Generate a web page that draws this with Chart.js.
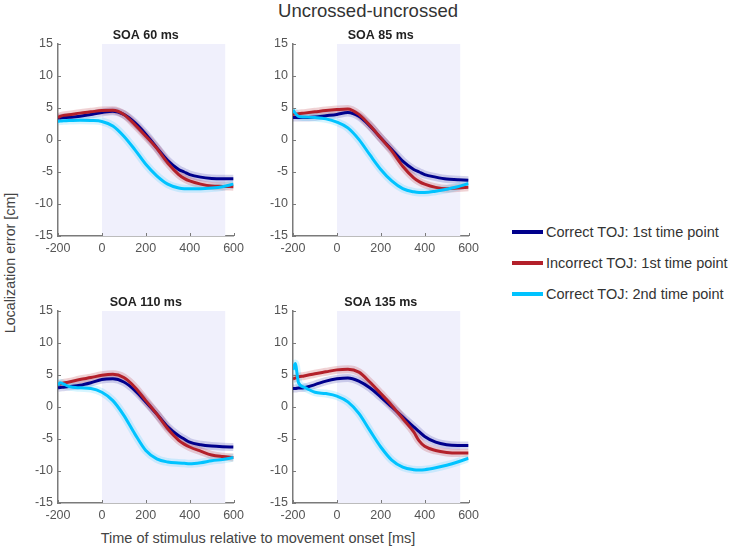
<!DOCTYPE html>
<html>
<head>
<meta charset="utf-8">
<script src="https://cdn.jsdelivr.net/npm/chart.js@4.4.1/dist/chart.umd.min.js"></script>
<style>
  body { margin: 0; background: #fff; }
  #wrap { position: relative; width: 730px; height: 550px; font-family: 'Liberation Sans', Arial, sans-serif; color: #333; }
  #wrap canvas { position: absolute; }
  .txt { position: absolute; white-space: nowrap; }
  #titulo { left: 368px; top: 11px; font-size: 18.5px; color: #333; transform: translate(-50%, -50%); }
  #ylab { left: 10px; top: 263px; font-size: 14.3px; color: #444; transform: translate(-50%, -50%) rotate(-90deg); }
  #xlab { left: 258px; top: 538px; font-size: 14.5px; color: #444; transform: translate(-50%, -50%); }
  .leg { position: absolute; left: 512px; font-size: 14.5px; color: #333; height: 18px; line-height: 18px; }
  .leg span { display: inline-block; width: 31px; height: 4px; vertical-align: middle; margin-right: 3px; position: relative; top: -1px; }
</style>
</head>
<body>
<div id="wrap">
  <div id="titulo" class="txt">Uncrossed-uncrossed</div>
  <div id="ylab" class="txt">Localization error [cm]</div>
  <div id="xlab" class="txt">Time of stimulus relative to movement onset [ms]</div>
  <div id="legenda"></div>
  <canvas id="c1" width="225" height="237" style="left:24px; top:23px"></canvas>
  <canvas id="c2" width="225" height="237" style="left:259px; top:23px"></canvas>
  <canvas id="c3" width="225" height="237" style="left:24px; top:290px"></canvas>
  <canvas id="c4" width="225" height="237" style="left:259px; top:290px"></canvas>
</div>
<script>
// tempos (ms) comuns a todas as curvas
const tempos = [-200, -190, -175, -150, -100, -50, 0, 50, 100, 150, 200, 250, 300, 350, 375, 400, 450, 500, 550, 600];

// janela do movimento (faixa sombreada)
const janela = [0, 563];

const titulos = ['SOA 60 ms', 'SOA 85 ms', 'SOA 110 ms', 'SOA 135 ms'];
const nomesSeries = ['Correct TOJ: 1st time point', 'Incorrect TOJ: 1st time point', 'Correct TOJ: 2nd time point'];
const coresSeries = ['#00008c', '#b3202a', '#00c3ff'];
const coresBanda = ['rgba(0,0,140,0.16)', 'rgba(179,32,42,0.2)', 'rgba(0,195,255,0.16)'];

// SOA 60
const soa60Correto1 = [3.4, 3.45, 3.5, 3.55, 3.7, 4.0, 4.3, 4.5, 4.0, 2.7, 0.9, -1.2, -3.2, -4.6, -5.0, -5.4, -5.8, -6.0, -6.05, -6.05];
const soa60Incorreto1 = [3.5, 3.7, 3.85, 3.95, 4.2, 4.4, 4.6, 4.65, 4.0, 2.4, 0.6, -1.3, -3.6, -5.4, -6.0, -6.4, -6.9, -7.2, -7.25, -7.3];
const soa60Correto2 = [2.9, 2.95, 3.0, 3.05, 3.1, 3.05, 2.9, 2.2, 0.6, -1.5, -3.8, -5.6, -6.9, -7.5, -7.6, -7.6, -7.6, -7.5, -7.3, -6.9];

// SOA 85
const soa85Correto1 = [3.5, 3.5, 3.5, 3.5, 3.6, 3.8, 4.0, 4.3, 3.7, 2.2, 0.3, -1.5, -3.3, -4.6, -5.0, -5.4, -5.8, -6.1, -6.2, -6.3];
const soa85Incorreto1 = [4.0, 4.05, 4.1, 4.2, 4.4, 4.6, 4.75, 4.85, 4.0, 2.3, 0.3, -1.7, -4.1, -5.9, -6.5, -6.9, -7.4, -7.6, -7.5, -7.4];
const soa85Correto2 = [4.7, 4.2, 3.7, 3.6, 3.5, 3.3, 2.8, 1.9, 0.1, -2.3, -4.6, -6.4, -7.6, -8.1, -8.2, -8.2, -8.0, -7.7, -7.3, -6.8];

// SOA 110
const soa110Correto1 = [3.0, 3.05, 3.1, 3.2, 3.4, 3.8, 4.3, 4.4, 3.9, 2.6, 0.8, -1.1, -3.1, -4.5, -5.0, -5.5, -5.9, -6.1, -6.2, -6.25];
const soa110Incorreto1 = [3.5, 3.6, 3.75, 3.9, 4.3, 4.6, 4.95, 5.1, 4.6, 3.1, 1.0, -1.1, -3.4, -5.2, -5.8, -6.25, -6.9, -7.5, -7.75, -7.9];
const soa110Correto2 = [3.4, 3.8, 3.6, 3.2, 3.0, 2.9, 2.3, 1.0, -1.3, -4.2, -6.8, -8.1, -8.6, -8.75, -8.8, -8.85, -8.7, -8.4, -8.2, -7.9];

// SOA 135
const soa135Correto1 = [2.9, 2.9, 2.95, 3.0, 3.5, 4.05, 4.4, 4.55, 4.05, 3.0, 1.55, 0, -1.55, -3.1, -3.85, -4.6, -5.5, -5.9, -6.0, -6.0];
const soa135Incorreto1 = [4.4, 4.5, 4.7, 4.85, 5.2, 5.5, 5.8, 5.9, 5.45, 3.9, 2.1, 0.25, -1.8, -3.9, -5.3, -6.15, -6.8, -7.1, -7.2, -7.2];
const soa135Correto2 = [5.8, 6.8, 3.8, 3.1, 2.3, 2.1, 1.7, 0.8, -1.0, -3.65, -6.25, -8.3, -9.4, -9.8, -9.85, -9.8, -9.5, -9.1, -8.6, -8.0];

const dadosPaineis = [
  [soa60Correto1, soa60Incorreto1, soa60Correto2],
  [soa85Correto1, soa85Incorreto1, soa85Correto2],
  [soa110Correto1, soa110Incorreto1, soa110Correto2],
  [soa135Correto1, soa135Incorreto1, soa135Correto2]
];

const fonte = "'Liberation Sans', Arial, sans-serif";
const corEixo = '#7a7a7a';
const corTexto = '#555';

// legenda em html
const legenda = document.getElementById('legenda');
nomesSeries.forEach(function(nome, i){
  const d = document.createElement('div');
  d.className = 'leg';
  d.style.top = (223 + i * 31) + 'px';
  d.innerHTML = '<span style="background:' + coresSeries[i] + '"></span>' + nome;
  legenda.appendChild(d);
});

// tiquinhos para dentro, estilo matlab
const tiquesDentro = {
  id: 'tiquesDentro',
  afterDatasetsDraw(chart) {
    const ctx = chart.ctx;
    const area = chart.chartArea;
    const x = chart.scales.x, y = chart.scales.y;
    ctx.save();
    ctx.strokeStyle = corEixo;
    ctx.lineWidth = 1;
    x.ticks.forEach(function(t){
      const px = Math.round(x.getPixelForValue(t.value)) + 0.5;
      ctx.beginPath(); ctx.moveTo(px, area.bottom); ctx.lineTo(px, area.bottom - 3); ctx.stroke();
    });
    y.ticks.forEach(function(t){
      const py = Math.round(y.getPixelForValue(t.value)) + 0.5;
      ctx.beginPath(); ctx.moveTo(area.left, py); ctx.lineTo(area.left + 3, py); ctx.stroke();
    });
    ctx.restore();
  }
};

function pontos(valores) {
  return tempos.map(function(t, i){ return {x: t, y: valores[i]}; });
}

function criarPainel(id, titulo, series) {
  const datasets = [];
  // faixa sombreada
  datasets.push({
    data: [{x: janela[0], y: 15}, {x: janela[1], y: 15}],
    borderWidth: 0,
    pointRadius: 0,
    backgroundColor: '#f0f0fc',
    fill: 'start',
    order: 100
  });
  series.forEach(function(valores, i){
    // banda de erro
    datasets.push({
      data: pontos(valores),
      borderColor: coresBanda[i],
      borderWidth: 8,
      pointRadius: 0,
      cubicInterpolationMode: 'monotone',
      fill: false,
      order: 50 - i
    });
    datasets.push({
      data: pontos(valores),
      borderColor: coresSeries[i],
      borderWidth: 3,
      pointRadius: 0,
      cubicInterpolationMode: 'monotone',
      fill: false,
      order: 3 - i
    });
  });

  new Chart(document.getElementById(id), {
    type: 'line',
    data: { datasets: datasets },
    plugins: [tiquesDentro],
    options: {
      responsive: false,
      animation: false,
      layout: { padding: { top: 2, right: 14, left: 0, bottom: 0 } },
      plugins: {
        legend: { display: false },
        tooltip: { enabled: false },
        title: {
          display: true,
          fullSize: false,
          text: titulo,
          color: '#222',
          font: { family: fonte, size: 12.5, weight: 'bold', lineHeight: '15px' },
          padding: { top: 3, bottom: 1 }
        }
      },
      scales: {
        x: {
          type: 'linear',
          min: -200,
          max: 600,
          ticks: { stepSize: 200, color: corTexto, font: { family: fonte, size: 12.5 }, padding: 5, maxRotation: 0 },
          grid: { drawOnChartArea: false, drawTicks: false },
          border: { color: corEixo, width: 1.5 },
          afterFit: function(s){ s.height = 24; }
        },
        y: {
          min: -15,
          max: 15,
          ticks: { stepSize: 5, color: corTexto, font: { family: fonte, size: 12.5 }, padding: 5 },
          grid: { drawOnChartArea: false, drawTicks: false },
          border: { color: corEixo, width: 1.5 },
          afterFit: function(s){ s.width = 34; }
        }
      }
    }
  });
}

criarPainel('c1', titulos[0], dadosPaineis[0]);
criarPainel('c2', titulos[1], dadosPaineis[1]);
criarPainel('c3', titulos[2], dadosPaineis[2]);
criarPainel('c4', titulos[3], dadosPaineis[3]);
</script>
</body>
</html>
